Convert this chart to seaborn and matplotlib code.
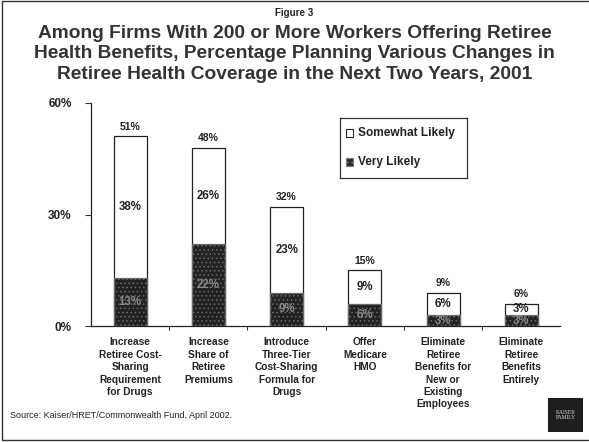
import matplotlib
matplotlib.use("Agg")
import matplotlib.pyplot as plt
import seaborn as sns
import pandas as pd
from matplotlib.patches import Rectangle
from matplotlib.lines import Line2D

# Survey results (percent of firms)
categories = [
    "Increase\nRetiree Cost-\nSharing\nRequirement\nfor Drugs",
    "Increase\nShare of\nRetiree\nPremiums",
    "Introduce\nThree-Tier\nCost-Sharing\nFormula for\nDrugs",
    "Offer\nMedicare\nHMO",
    "Eliminate\nRetiree\nBenefits for\nNew or\nExisting\nEmployees",
    "Eliminate\nRetiree\nBenefits\nEntirely",
]
very_likely = [13, 22, 9, 6, 3, 3]
somewhat_likely = [38, 26, 23, 9, 6, 3]
totals = [51, 48, 32, 15, 9, 6]
y_ticks = [0, 30, 60]

sns.set_theme(style="white")
plt.rcParams["font.family"] = ["Liberation Sans", "DejaVu Sans"]
plt.rcParams["hatch.linewidth"] = 0.6

df = pd.DataFrame({
    "category": categories,
    "very": very_likely,
    "somewhat": somewhat_likely,
    "total": totals,
})

fig = plt.figure(figsize=(5.89, 4.42), dpi=100)
ax = fig.add_axes([0.1545, 0.262, 0.797, 0.505])

# Full stack height drawn first (white), then the "very likely" base on top
sns.barplot(data=df, x="category", y="total", color="white", width=0.42,
            edgecolor="#222222", linewidth=0.9, saturation=1, ax=ax, zorder=2)
sns.barplot(data=df, x="category", y="very", color="#222222", width=0.42,
            edgecolor="#6a6a6a", linewidth=0.9, saturation=1, ax=ax,
            hatch="....", zorder=3)

ax.set_ylim(0, 60)
ax.set_xlim(-0.5, len(categories) - 0.5)
ax.set_yticks(y_ticks)
ax.set_yticklabels([f"{v}%" for v in y_ticks], fontsize=8.5, fontweight="bold",
                   color="#222222")
ax.set_xticks(range(len(categories)))
ax.set_xticklabels(categories, fontsize=7.3, fontweight="bold", color="#222222",
                   linespacing=1.3, va="top")
ax.set_xticks([i + 0.5 for i in range(len(categories) - 1)], minor=True)
ax.tick_params(axis="x", which="major", length=0, pad=8)
ax.tick_params(axis="x", which="minor", length=3, width=0.8, color="#333333",
               direction="out", bottom=True)
ax.tick_params(axis="y", length=4, width=0.8, color="#333333", direction="out",
               left=True, pad=10)
ax.set_xlabel("")
ax.set_ylabel("")
for side in ["top", "right"]:
    ax.spines[side].set_visible(False)
for side in ["left", "bottom"]:
    ax.spines[side].set_color("#222222")
    ax.spines[side].set_linewidth(0.9)

# Value labels
for i in range(len(categories)):
    ax.text(i, totals[i] + 1.3, f"{totals[i]}%", ha="center", va="bottom",
            fontsize=7.5, fontweight="bold", color="#222222")
    ax.text(i, very_likely[i] + somewhat_likely[i] / 2, f"{somewhat_likely[i]}%",
            ha="center", va="center", fontsize=8.3, fontweight="bold",
            color="#222222", zorder=5)
    ax.text(i, very_likely[i] / 2, f"{very_likely[i]}%", ha="center",
            va="center", fontsize=8.3, fontweight="bold", color="#8a8a8a",
            zorder=5)

# Legend
leg_ax = fig.add_axes([340 / 589, 1 - 178 / 442, 127 / 589, 60 / 442])
leg_ax.set_xlim(0, 1)
leg_ax.set_ylim(0, 1)
leg_ax.set_xticks([])
leg_ax.set_yticks([])
for s in leg_ax.spines.values():
    s.set_color("#333333")
    s.set_linewidth(0.9)
    s.set_visible(True)
leg_ax.add_patch(Rectangle((0.05, 0.68), 0.055, 0.13, facecolor="white",
                           edgecolor="#222222", linewidth=0.8))
leg_ax.add_patch(Rectangle((0.05, 0.20), 0.055, 0.13, facecolor="#2a2a2a",
                           edgecolor="#7a7a7a", linewidth=0.8, hatch="...."))
leg_ax.text(0.14, 0.745, "Somewhat Likely", fontsize=8.6, fontweight="bold",
            va="center", ha="left", color="#222222")
leg_ax.text(0.14, 0.265, "Very Likely", fontsize=8.6, fontweight="bold",
            va="center", ha="left", color="#222222")

# Titles
fig.text(0.5, 1 - 13 / 442, "Figure 3", ha="center", va="center", fontsize=7,
         fontweight="bold", color="#222222")
fig.text(0.5, 1 - 54 / 442,
         "Among Firms With 200 or More Workers Offering Retiree\n"
         "Health Benefits, Percentage Planning Various Changes in\n"
         "Retiree Health Coverage in the Next Two Years, 2001",
         ha="center", va="center", fontsize=13.8, fontweight="bold",
         color="#333333", linespacing=1.3)

# Source note
fig.text(10 / 589, 1 - 415 / 442, "Source: Kaiser/HRET/Commonwealth Fund, April 2002.",
         ha="left", va="center", fontsize=6.5, color="#222222")

# Foundation logo block
fig.patches.append(Rectangle((548 / 589, 1 - 432 / 442), 35 / 589, 34 / 442,
                             transform=fig.transFigure, facecolor="#1e1e1e",
                             edgecolor="none"))
fig.text(565.5 / 589, 1 - 415 / 442, "KAISER\nFAMILY", ha="center", va="center",
         fontsize=4, color="#dddddd", family="Liberation Serif", linespacing=1.1)

# Slide frame: left, top and bottom edges
frame_x = [0.999, 0.003, 0.003, 0.999]
frame_y = [0.997, 0.997, 0.004, 0.004]
fig.lines.append(Line2D(frame_x, frame_y, transform=fig.transFigure,
                        color="#333333", linewidth=1.0))

fig.savefig("out.png", dpi=100)
